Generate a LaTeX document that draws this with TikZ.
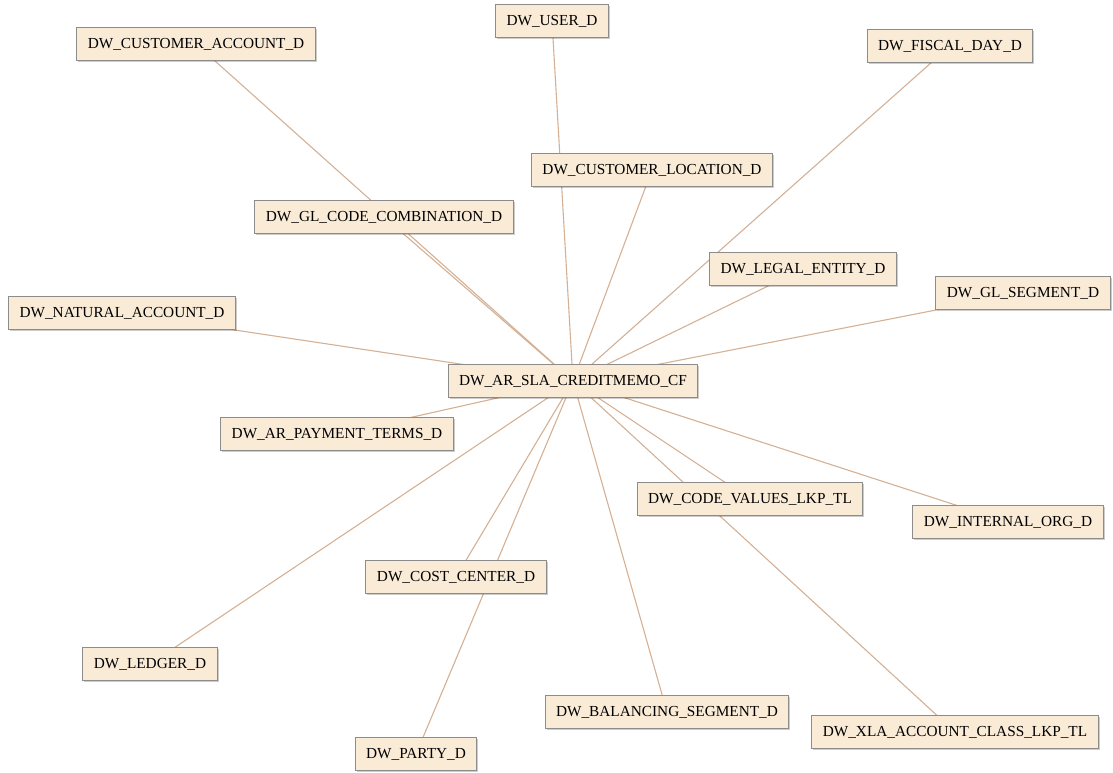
\documentclass[tikz,border=0pt]{standalone}
\usepackage{fontspec}
\setmainfont{Liberation Serif}
\usepackage{tikz}
\usetikzlibrary{backgrounds, shadows}
\definecolor{tblfill}{HTML}{FAEBD7}
\definecolor{tblline}{HTML}{8C8C8C}
\definecolor{linkcol}{HTML}{D4B095}

\begin{document}
\begin{tikzpicture}[x=1pt, y=-1pt,
  tbl/.style={draw=tblline, fill=tblfill, line width=1pt, minimum height=33pt,
    inner xsep=11pt, font=\fontsize{15.3}{17}\selectfont,
    drop shadow={shadow xshift=1.5pt, shadow yshift=-1.5pt, fill=black, opacity=0.2}},
  link/.style={draw=linkcol, line width=1.1pt}]
\useasboundingbox (0,0) rectangle (1113,772);
% hub
\node[tbl] (cf) at (573,381) {DW\_AR\_SLA\_CREDITMEMO\_CF};
% dimensions, top half
\node[tbl] (user) at (552,21) {DW\_USER\_D};
\node[tbl] (custacct) at (196,44) {DW\_CUSTOMER\_ACCOUNT\_D};
\node[tbl] (fiscalday) at (950,46) {DW\_FISCAL\_DAY\_D};
\node[tbl] (custloc) at (652,170) {DW\_CUSTOMER\_LOCATION\_D};
\node[tbl] (glcode) at (384,217) {DW\_GL\_CODE\_COMBINATION\_D};
\node[tbl] (legal) at (803,269) {DW\_LEGAL\_ENTITY\_D};
\node[tbl] (glseg) at (1023,293) {DW\_GL\_SEGMENT\_D};
\node[tbl] (natacct) at (122,313) {DW\_NATURAL\_ACCOUNT\_D};
% dimensions, bottom half
\node[tbl] (payterms) at (337,434) {DW\_AR\_PAYMENT\_TERMS\_D};
\node[tbl] (codevals) at (750,499) {DW\_CODE\_VALUES\_LKP\_TL};
\node[tbl] (intorg) at (1008,522) {DW\_INTERNAL\_ORG\_D};
\node[tbl] (costctr) at (456,577) {DW\_COST\_CENTER\_D};
\node[tbl] (ledger) at (150,664) {DW\_LEDGER\_D};
\node[tbl] (balseg) at (667,712) {DW\_BALANCING\_SEGMENT\_D};
\node[tbl] (xlaclass) at (955,732) {DW\_XLA\_ACCOUNT\_CLASS\_LKP\_TL};
\node[tbl] (party) at (416,754) {DW\_PARTY\_D};
% links behind the boxes
\begin{pgfonlayer}{background}
\foreach \dim in {user, custacct, fiscalday, custloc, glcode, legal, glseg, natacct,
  payterms, codevals, intorg, costctr, ledger, balseg, xlaclass, party}
  \draw[link] (cf.center) -- (\dim.center);
\end{pgfonlayer}
\end{tikzpicture}
\end{document}
